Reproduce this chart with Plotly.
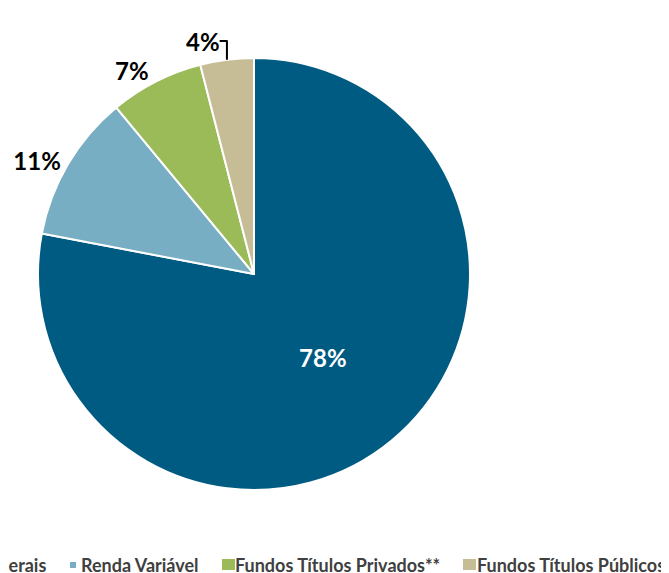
import plotly.graph_objects as go

labels = ["Títulos Públicos Federais", "Renda Variável", "Fundos Títulos Privados**", "Fundos Títulos Públicos*"]
values = [78, 11, 7, 4]
colors = ["#005B82", "#77AEC3", "#9BBB59", "#C6BD96"]

W, H = 669, 573
cx, cy, r = 246, 266, 216

fig = go.Figure()
fig.add_trace(go.Pie(
    labels=labels, values=values, sort=False, direction="clockwise", rotation=0,
    marker=dict(colors=colors, line=dict(color="white", width=2)),
    texttemplate="<b>%{value}%</b>",
    textposition=["inside", "outside", "outside", "outside"],
    insidetextfont=dict(color="white", size=24, family="Lato"),
    outsidetextfont=dict(color="black", size=24, family="Lato"),
    insidetextorientation="horizontal",
    showlegend=False,
    domain=dict(x=[(cx - r) / W, (cx + r) / W], y=[1 - (cy + r) / H, 1 - (cy - r) / H]),
))

# legend drawn by hand (the chart is cropped at both sides)
text_x = [40, 71, 225, 467]
anchors = ["right", "left", "left", "left"]
mark_box = [None, (62, 68, 554, 560), (214, 227, 551, 562), (455, 468, 551, 562)]
for lab, col, x, a, box in zip(labels, colors, text_x, anchors, mark_box):
    fig.add_annotation(
        x=x / W, y=1 - 557 / H, xref="paper", yref="paper", xanchor=a, yanchor="middle",
        text=f"<b>{lab}</b>", showarrow=False,
        font=dict(size=18, family="Lato", color="#404040"),
    )
    if box:
        x0, x1, y0, y1 = box
        fig.add_shape(type="rect", xref="paper", yref="paper",
                      x0=x0 / W, x1=x1 / W, y0=1 - y1 / H, y1=1 - y0 / H,
                      fillcolor=col, line=dict(width=0))

fig.update_layout(
    width=W, height=H, margin=dict(l=0, r=0, t=0, b=0, autoexpand=False),
    paper_bgcolor="white", plot_bgcolor="white",
)
fig.write_html("out.html")
